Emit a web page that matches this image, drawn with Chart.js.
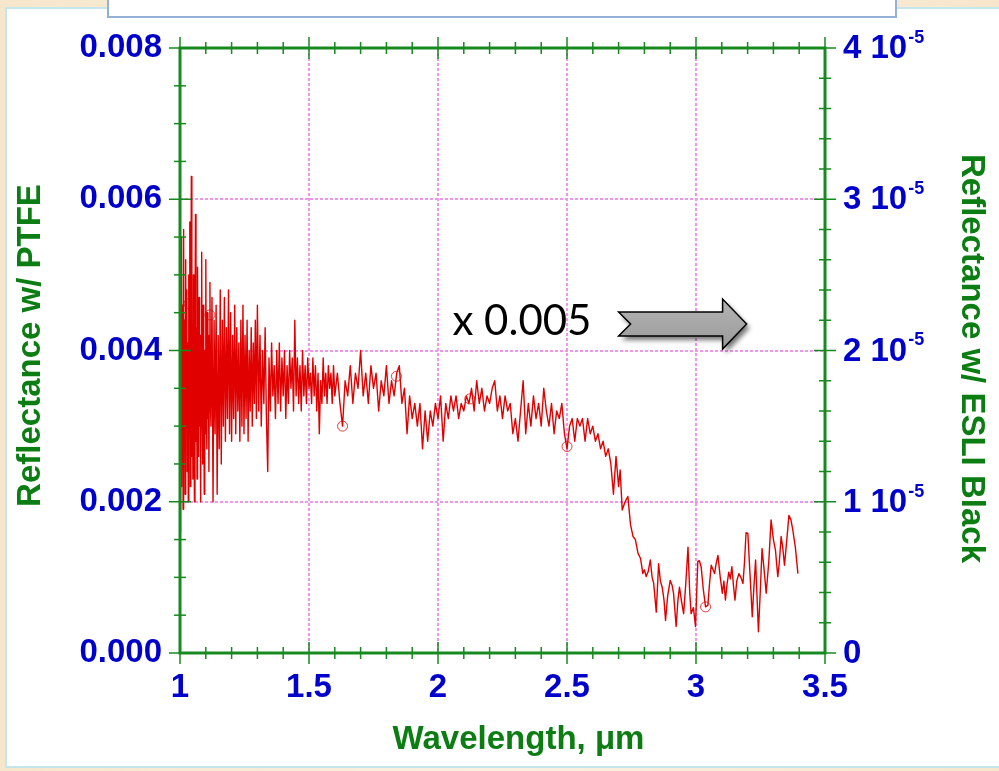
<!DOCTYPE html>
<html>
<head>
<meta charset="utf-8">
<title>Reflectance spectrum</title>
<script src="https://cdn.jsdelivr.net/npm/chart.js@4.4.1/dist/chart.umd.min.js"></script>
<style>
  html, body { margin: 0; padding: 0; width: 999px; height: 771px; overflow: hidden;
    background: linear-gradient(90deg, #f6e6cc, #fbf1e1 50%, #f6e6cc); }
  #panel { position: absolute; left: 5px; top: 7px; width: 1000px; height: 757px;
    background: #fff; border: 2px solid #c4e6ec; }
  #caption { position: absolute; left: 107px; top: -3px; width: 786px; height: 17px;
    background: #fff; border: 2px solid #94b0d4; z-index: 2; }
  #chart { position: absolute; left: 0; top: 0; }
</style>
</head>
<body>
<div id="panel"></div>
<div id="caption"></div>
<canvas id="chart" width="999" height="771"></canvas>
<script>
// spectrum, wavelength in micrometres
const wavelengthUm = [
  1.000, 1.002, 1.004, 1.006, 1.008, 1.010, 1.012, 1.014, 1.016, 1.018,
  1.020, 1.022, 1.024, 1.026, 1.028, 1.030, 1.032, 1.034, 1.036, 1.038,
  1.040, 1.042, 1.044, 1.046, 1.048, 1.050, 1.052, 1.054, 1.056, 1.058,
  1.060, 1.062, 1.064, 1.066, 1.068, 1.070, 1.072, 1.074, 1.076, 1.078,
  1.080, 1.082, 1.084, 1.086, 1.088, 1.090, 1.092, 1.094, 1.096, 1.098,
  1.100, 1.102, 1.104, 1.106, 1.108, 1.110, 1.112, 1.114, 1.116, 1.118,
  1.120,
  1.124, 1.128, 1.132, 1.136, 1.140, 1.144, 1.148, 1.152, 1.156,
  1.160, 1.164, 1.168, 1.172, 1.176, 1.180, 1.184, 1.188, 1.192, 1.196,
  1.200, 1.204, 1.208, 1.212, 1.216, 1.220, 1.224, 1.228, 1.232, 1.236,
  1.240, 1.244, 1.248, 1.252, 1.256, 1.260, 1.264, 1.268, 1.272, 1.276,
  1.280, 1.284, 1.288, 1.292, 1.296, 1.300,
  1.305, 1.310, 1.315, 1.320, 1.325, 1.330, 1.335, 1.340, 1.345, 1.350,
  1.355, 1.360, 1.365, 1.370, 1.375, 1.380, 1.385, 1.390, 1.395, 1.400,
  1.405, 1.410, 1.415, 1.420, 1.425, 1.430, 1.435, 1.440, 1.445, 1.450,
  1.455, 1.460, 1.465, 1.470, 1.475, 1.480, 1.485, 1.490, 1.495, 1.500,
  1.505, 1.510, 1.515, 1.520, 1.525, 1.530, 1.535, 1.540, 1.545, 1.550,
  1.555, 1.560, 1.565, 1.570, 1.575, 1.580, 1.585, 1.590, 1.595, 1.600,
  1.61, 1.62, 1.63, 1.64, 1.65, 1.66, 1.67, 1.68, 1.69, 1.70,
  1.71, 1.72, 1.73, 1.74, 1.75, 1.76, 1.77, 1.78, 1.79, 1.80,
  1.81, 1.82, 1.83, 1.84, 1.85, 1.86, 1.87, 1.88, 1.89, 1.90,
  1.91, 1.92, 1.93, 1.94, 1.95, 1.96, 1.97, 1.98, 1.99, 2.00,
  2.01, 2.02, 2.03, 2.04, 2.05, 2.06, 2.07, 2.08, 2.09, 2.10,
  2.11, 2.12, 2.13, 2.14, 2.15, 2.16, 2.17, 2.18, 2.19, 2.20,
  2.21, 2.22, 2.23, 2.24, 2.25, 2.26, 2.27, 2.28, 2.29, 2.30,
  2.31, 2.32, 2.33, 2.34, 2.35, 2.36, 2.37, 2.38, 2.39, 2.40,
  2.41, 2.42, 2.43, 2.44, 2.45, 2.46, 2.47, 2.48, 2.49, 2.50,
  2.51, 2.52, 2.53, 2.54, 2.55, 2.56, 2.57, 2.58, 2.59, 2.60,
  2.61, 2.62, 2.63, 2.64, 2.65, 2.66, 2.67, 2.68, 2.69, 2.70,
  2.706, 2.714, 2.725, 2.736, 2.746, 2.756, 2.765, 2.775, 2.785, 2.794,
  2.800, 2.807, 2.815, 2.823, 2.830, 2.836, 2.846, 2.855, 2.862, 2.869,
  2.876, 2.882, 2.890, 2.900, 2.907, 2.913, 2.923, 2.930, 2.936, 2.944,
  2.952, 2.960, 2.969, 2.975, 2.981, 2.990, 2.998, 3.007, 3.013, 3.020,
  3.028, 3.037, 3.046, 3.052, 3.059, 3.066, 3.072, 3.078, 3.085, 3.094,
  3.102, 3.108, 3.114, 3.120, 3.127, 3.133, 3.139, 3.145, 3.151, 3.158,
  3.166, 3.174, 3.182, 3.188, 3.194, 3.201, 3.210, 3.218, 3.224, 3.231,
  3.237, 3.242, 3.249, 3.256, 3.264, 3.272, 3.282, 3.291, 3.300, 3.308,
  3.317, 3.323, 3.330, 3.336, 3.343, 3.352, 3.360, 3.368, 3.375, 3.385,
  3.395
];

// reflectance measured against the PTFE reference
const reflectance = [
  0.0016, 0.0050, 0.0022, 0.0055, 0.0030, 0.0046, 0.0019, 0.0056, 0.0027, 0.0044,
  0.0021, 0.0052, 0.0033, 0.0048, 0.0024, 0.0041, 0.0020, 0.0050, 0.0029, 0.0057,
  0.0022, 0.0045, 0.0063, 0.0026, 0.0040, 0.0023, 0.0050, 0.0031, 0.0020, 0.0044,
  0.0058, 0.0028, 0.0043, 0.0023, 0.0051, 0.0034, 0.0026, 0.0047, 0.0030, 0.0042,
  0.0020, 0.0039, 0.0053, 0.0032, 0.0025, 0.0046, 0.0036, 0.0021, 0.0040, 0.0029,
  0.0052, 0.0034, 0.0027, 0.0045, 0.0031, 0.0042, 0.0024, 0.0038, 0.0049, 0.0033,
  0.0030,
  0.0047, 0.0020, 0.0044, 0.0029, 0.0046, 0.0021, 0.0042, 0.0027, 0.0048,
  0.0025, 0.0044, 0.0030, 0.0047, 0.0028, 0.0043, 0.0031, 0.0048, 0.0029, 0.0045,
  0.0028, 0.0042, 0.0031, 0.0046, 0.0029, 0.0043, 0.0032, 0.0041, 0.0028, 0.0044,
  0.0030, 0.0046, 0.0029, 0.0042, 0.0031, 0.0044, 0.0028, 0.0040, 0.0032, 0.0043,
  0.0030, 0.0041, 0.0033, 0.0044, 0.0031, 0.0046,
  0.0032, 0.0042, 0.0030, 0.0040, 0.0033, 0.0043, 0.0031, 0.0024, 0.0039, 0.0032,
  0.0041, 0.0034, 0.0038, 0.0031, 0.0040, 0.0033, 0.0041, 0.0032, 0.0039, 0.0034,
  0.0040, 0.0031, 0.0038, 0.0033, 0.0040, 0.0035, 0.0039, 0.0032, 0.0044, 0.0034,
  0.0039, 0.0033, 0.0038, 0.0032, 0.0040, 0.0034, 0.0038, 0.0033, 0.0039, 0.0035,
  0.0037, 0.0033, 0.0039, 0.0034, 0.0038, 0.0032, 0.0037, 0.0029, 0.0036, 0.0033,
  0.0039, 0.0034, 0.0037, 0.0033, 0.0038, 0.0035, 0.0037, 0.0033, 0.0038, 0.0034,
  0.0037, 0.0033, 0.0030, 0.0036, 0.0034, 0.0038, 0.0033, 0.0037, 0.0035, 0.0040,
  0.0034, 0.0037, 0.0033, 0.0038, 0.0035, 0.0037, 0.0032, 0.0036, 0.0034, 0.0038,
  0.0033, 0.0036, 0.0034, 0.0037, 0.0038, 0.0033, 0.0035, 0.0029, 0.0034, 0.0031,
  0.0033, 0.0030, 0.0033, 0.0027, 0.0032, 0.0028, 0.0032, 0.0030, 0.0033, 0.0031,
  0.0034, 0.0028, 0.0033, 0.0031, 0.0034, 0.0032, 0.0034, 0.0031, 0.0033, 0.0032,
  0.0034, 0.0033, 0.0035, 0.0032, 0.0036, 0.0033, 0.0035, 0.0032, 0.0034, 0.0033,
  0.0035, 0.0036, 0.0032, 0.0034, 0.0031, 0.0034, 0.0032, 0.0033, 0.0029, 0.0031,
  0.0028, 0.0032, 0.0036, 0.0029, 0.0033, 0.0030, 0.0034, 0.0031, 0.0033, 0.0030,
  0.0035, 0.0032, 0.0030, 0.0033, 0.0029, 0.0032, 0.0031, 0.0033, 0.0029, 0.0027,
  0.0030, 0.0031, 0.0028, 0.0031, 0.0030, 0.0031, 0.0028, 0.0031, 0.0029, 0.0030,
  0.0028, 0.0029, 0.0027, 0.0028, 0.0026, 0.0027, 0.0025, 0.0021, 0.0026, 0.0022,
  0.00242, 0.00189, 0.00200, 0.00207, 0.00170, 0.00154, 0.00150, 0.00132, 0.00125, 0.00105,
  0.00110, 0.00101, 0.00108, 0.00123, 0.00100, 0.00092, 0.00054, 0.00118, 0.00095, 0.00087,
  0.00070, 0.00043, 0.00075, 0.00096, 0.00090, 0.00079, 0.00035, 0.00070, 0.00087, 0.00068,
  0.00052, 0.00090, 0.00140, 0.00085, 0.00052, 0.00060, 0.00035, 0.00121, 0.00122, 0.00114,
  0.00085, 0.00061, 0.00063, 0.00090, 0.00116, 0.00110, 0.00105, 0.00118, 0.00129, 0.00100,
  0.00079, 0.00095, 0.00070, 0.00090, 0.00107, 0.00098, 0.00114, 0.00090, 0.00070, 0.00095,
  0.00105, 0.00100, 0.00092, 0.00120, 0.00159, 0.00158, 0.00100, 0.00048, 0.00085, 0.00123,
  0.00070, 0.00028, 0.00080, 0.00138, 0.00110, 0.00079, 0.00120, 0.00176, 0.00150, 0.00136,
  0.00101, 0.00120, 0.00154, 0.00140, 0.00116, 0.00150, 0.00182, 0.00176, 0.00163, 0.00140,
  0.00105
];

// circled sample points
const markerWavelength = [1.035, 1.116, 1.630, 1.839, 2.123, 2.500, 3.037];
const markerReflectance = [0.00462, 0.00447, 0.00300, 0.00366, 0.00336, 0.00273, 0.00061];

// axis ranges and ticks
const xRange = [1, 3.5];
const xMajor = 0.5, xMinor = 0.1;
const leftRange = [0, 0.008];
const leftMajor = 0.002, leftMinor = 0.0005;
const rightRange = [0, 4e-5];
const rightMajor = 1e-5, rightMinor = 2e-6;

const xTitle = 'Wavelength, \u03bcm';
const leftTitle = 'Reflectance w/ PTFE';
const rightTitle = 'Reflectance w/ ESLI Black';
const scaleNote = 'x 0.005';

const axisGreen = '#168a1e';
const titleGreen = '#0b7d13';
const labelBlue = '#0000cc';
const gridPink = '#ef96ea';
const family = "'Liberation Sans', Arial, sans-serif";

const spectrum = wavelengthUm.map((x, i) => ({ x, y: reflectance[i] }));
const markers = markerWavelength.map((x, i) => ({ x, y: markerReflectance[i] }));

function line(ctx, x1, y1, x2, y2) {
  ctx.beginPath();
  ctx.moveTo(x1, y1);
  ctx.lineTo(x2, y2);
  ctx.stroke();
}

// green box with inside/outside tick marks on all four sides
const frame = {
  id: 'frame',
  afterDatasetsDraw(chart) {
    const { ctx, chartArea: a, scales } = chart;
    ctx.save();
    ctx.strokeStyle = axisGreen;
    ctx.lineWidth = 1.5;

    const nx = Math.round((xRange[1] - xRange[0]) / xMinor);
    for (let i = 0; i <= nx; i++) {
      const px = scales.x.getPixelForValue(xRange[0] + i * xMinor);
      const len = i % Math.round(xMajor / xMinor) === 0 ? 11 : 6;
      line(ctx, px, a.bottom - len, px, a.bottom + len);
      line(ctx, px, a.top - len, px, a.top + len);
    }
    const nl = Math.round((leftRange[1] - leftRange[0]) / leftMinor);
    for (let i = 0; i <= nl; i++) {
      const py = scales.y.getPixelForValue(leftRange[0] + i * leftMinor);
      const len = i % Math.round(leftMajor / leftMinor) === 0 ? 11 : 6;
      line(ctx, a.left - len, py, a.left + len, py);
    }
    const nr = Math.round((rightRange[1] - rightRange[0]) / rightMinor);
    for (let i = 0; i <= nr; i++) {
      const py = scales.y2.getPixelForValue(rightRange[0] + i * rightMinor);
      const len = i % Math.round(rightMajor / rightMinor) === 0 ? 11 : 6;
      line(ctx, a.right - len, py, a.right + len, py);
    }

    ctx.lineWidth = 3;
    ctx.strokeRect(a.left, a.top, a.right - a.left, a.bottom - a.top);
    ctx.restore();
  }
};

// right-hand labels with powers of ten, axis titles and the scale note
const decorations = {
  id: 'decorations',
  afterDraw(chart) {
    const { ctx, chartArea: a, scales } = chart;
    ctx.save();

    // right axis labels, e.g. "3 10^-5"
    ctx.fillStyle = labelBlue;
    ctx.textAlign = 'left';
    ctx.textBaseline = 'middle';
    scales.y2.ticks.forEach(t => {
      const py = scales.y2.getPixelForValue(t.value) + 1;
      const lx = a.right + 18;
      ctx.font = `bold 33px ${family}`;
      if (t.value === 0) {
        ctx.fillText('0', lx, py);
        return;
      }
      const exp = Math.floor(Math.log10(t.value) + 1e-9);
      const mant = Math.round(t.value / Math.pow(10, exp));
      const base = `${mant} 10`;
      ctx.fillText(base, lx, py);
      const w = ctx.measureText(base).width;
      ctx.font = `bold 18px ${family}`;
      ctx.fillText(String(exp), lx + w + 1, py - 11);
    });

    // axis titles
    ctx.fillStyle = titleGreen;
    ctx.font = `bold 33px ${family}`;
    ctx.textAlign = 'center';
    ctx.textBaseline = 'middle';
    ctx.fillText(xTitle, (a.left + a.right) / 2 + 16, 740);

    ctx.save();
    ctx.translate(31, (a.top + a.bottom) / 2 - 5);
    ctx.rotate(-Math.PI / 2);
    ctx.fillText(leftTitle, 0, 0);
    ctx.restore();

    ctx.save();
    ctx.translate(971, (a.top + a.bottom) / 2 + 8);
    ctx.rotate(Math.PI / 2);
    ctx.fillText(rightTitle, 0, 0);
    ctx.restore();

    // "x 0.005" note and block arrow pointing to the right axis
    const tx = scales.x.getPixelForValue(2.056);
    const ty = scales.y.getPixelForValue(0.0042);
    ctx.fillStyle = '#000';
    ctx.font = `42px Lato, 'Open Sans', sans-serif`;
    ctx.textAlign = 'left';
    ctx.textBaseline = 'alphabetic';
    ctx.fillText(scaleNote, tx, ty);

    const ax = scales.x.getPixelForValue(2.70);
    const ay = scales.y.getPixelForValue(0.00435);
    ctx.beginPath();
    ctx.moveTo(ax, ay - 12);
    ctx.lineTo(ax + 104, ay - 12);
    ctx.lineTo(ax + 104, ay - 25);
    ctx.lineTo(ax + 128, ay);
    ctx.lineTo(ax + 104, ay + 25);
    ctx.lineTo(ax + 104, ay + 12);
    ctx.lineTo(ax, ay + 12);
    ctx.lineTo(ax + 12, ay);
    ctx.closePath();
    ctx.save();
    ctx.shadowColor = 'rgba(0,0,0,0.55)';
    ctx.shadowBlur = 5;
    ctx.shadowOffsetX = 3;
    ctx.shadowOffsetY = 4;
    const g = ctx.createLinearGradient(0, ay - 25, 0, ay + 25);
    g.addColorStop(0, '#b4b4b4');
    g.addColorStop(1, '#9a9a9a');
    ctx.fillStyle = g;
    ctx.fill();
    ctx.restore();
    ctx.strokeStyle = '#000';
    ctx.lineWidth = 1.5;
    ctx.lineJoin = 'miter';
    ctx.stroke();

    ctx.restore();
  }
};

const tickFont = { family, size: 33, weight: 'bold' };

new Chart(document.getElementById('chart'), {
  type: 'line',
  data: {
    datasets: [
      {
        data: spectrum,
        borderColor: '#e00000',
        borderWidth: 1.4,
        borderJoinStyle: 'round',
        pointRadius: 0,
        tension: 0,
        yAxisID: 'y'
      },
      {
        type: 'scatter',
        data: markers,
        showLine: false,
        pointRadius: 5,
        pointBorderWidth: 1,
        pointBorderColor: 'rgba(225, 30, 30, 0.85)',
        pointBackgroundColor: 'rgba(0,0,0,0)',
        yAxisID: 'y'
      }
    ]
  },
  options: {
    responsive: false,
    animation: false,
    devicePixelRatio: 1,
    layout: { padding: { top: 48, left: 0, right: 0, bottom: 0 } },
    plugins: { legend: { display: false }, tooltip: { enabled: false } },
    scales: {
      x: {
        type: 'linear',
        min: xRange[0], max: xRange[1],
        ticks: { stepSize: xMajor, color: labelBlue, font: tickFont, padding: 15, maxRotation: 0,
                 callback: v => String(parseFloat(v.toFixed(2))) },
        grid: { color: gridPink, lineWidth: 2, drawTicks: false },
        border: { display: false, dash: [3, 2] },
        afterFit: s => { s.height = 118; }
      },
      y: {
        position: 'left',
        min: leftRange[0], max: leftRange[1],
        ticks: { stepSize: leftMajor, color: labelBlue, font: tickFont, padding: 18,
                 callback: v => v.toFixed(3) },
        grid: { color: gridPink, lineWidth: 2, drawTicks: false },
        border: { display: false, dash: [3, 2] },
        afterFit: s => { s.width = 180; }
      },
      y2: {
        position: 'right',
        min: rightRange[0], max: rightRange[1],
        ticks: { stepSize: rightMajor, display: false },
        grid: { display: false },
        border: { display: false },
        afterFit: s => { s.width = 174; }
      }
    }
  },
  plugins: [frame, decorations]
});
</script>
</body>
</html>
